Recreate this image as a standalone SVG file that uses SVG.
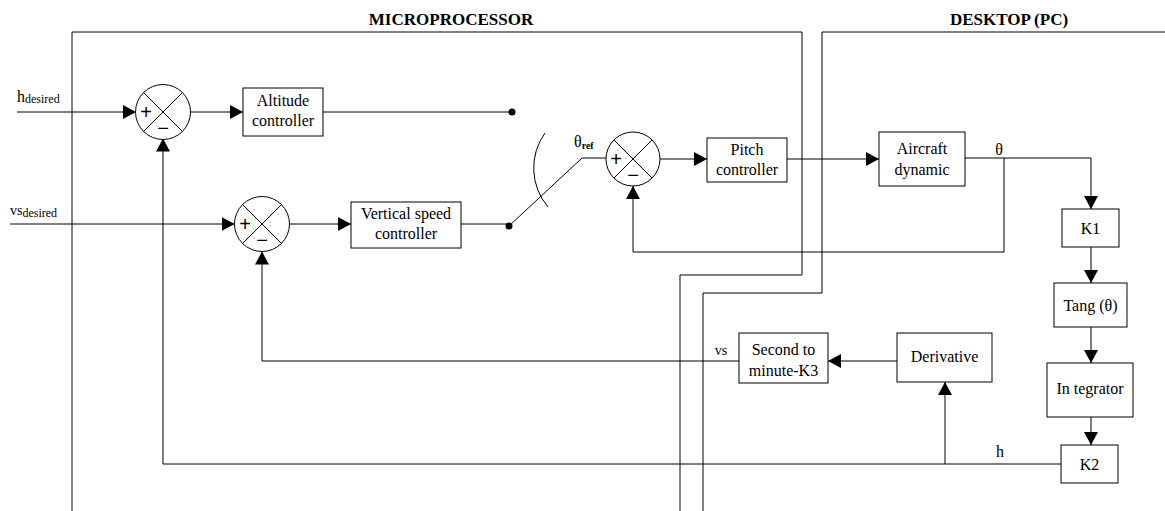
<svg xmlns="http://www.w3.org/2000/svg" width="1165" height="511" viewBox="0 0 1165 511">
<style>
.ln{fill:none;stroke:#000;stroke-width:1}
.bx{fill:#fff;stroke:#000;stroke-width:1}
.sm{fill:#fff;stroke:#000;stroke-width:1}
.t{font-family:"Liberation Serif","Times New Roman",serif;font-size:16px;fill:#000;text-anchor:middle}
.tl{font-family:"Liberation Serif","Times New Roman",serif;font-size:16px;fill:#000}
.ttl{font-family:"Liberation Serif","Times New Roman",serif;font-size:17px;font-weight:bold;fill:#000;text-anchor:middle}
.sub{font-size:12px}
.ps{font-family:"Liberation Sans",Arial,sans-serif;font-size:20px;fill:#000;text-anchor:middle}
</style>
<defs>
<marker id="ah" markerUnits="userSpaceOnUse" markerWidth="14" markerHeight="14" viewBox="0 0 14 14" refX="13" refY="7" orient="auto">
<path d="M0,0 L13,7 L0,14 Z" fill="#000"/>
</marker>
</defs>
<rect width="1165" height="511" fill="#fff"/>

<g id="boundaries">
<path class="ln" d="M72,511 V32 H802 V275 H680 V511"/>
<path class="ln" d="M1165,32 H822 V293 H703 V511"/>
<text class="ttl" x="451" y="25">MICROPROCESSOR</text>
<text class="ttl" x="1009" y="25">DESKTOP (PC)</text>
</g>

<g id="connectors">
<path class="ln" d="M17,112 H136" marker-end="url(#ah)"/>
<path class="ln" d="M190,112 H243" marker-end="url(#ah)"/>
<path class="ln" d="M323,112 H512"/>
<path class="ln" d="M10,224 H234.5" marker-end="url(#ah)"/>
<path class="ln" d="M289.5,224 H351" marker-end="url(#ah)"/>
<path class="ln" d="M461,224 H509"/>
<path class="ln" d="M509,226 L582,158 H606"/>
<path class="ln" d="M545,133 A60,60 0 0,0 548,207"/>
<path class="ln" d="M660,159 H707" marker-end="url(#ah)"/>
<path class="ln" d="M787,159 H879" marker-end="url(#ah)"/>
<path class="ln" d="M965,158 H1091 V209" marker-end="url(#ah)"/>
<path class="ln" d="M1004,158 V252 H633 V186" marker-end="url(#ah)"/>
<path class="ln" d="M1091,247 V283" marker-end="url(#ah)"/>
<path class="ln" d="M1091,327 V363" marker-end="url(#ah)"/>
<path class="ln" d="M1091,417 V445" marker-end="url(#ah)"/>
<path class="ln" d="M1061,464 H163 V138.5" marker-end="url(#ah)"/>
<path class="ln" d="M945,464 V382" marker-end="url(#ah)"/>
<path class="ln" d="M897,361 H828" marker-end="url(#ah)"/>
<path class="ln" d="M739,361 H262 V251.5" marker-end="url(#ah)"/>
<circle cx="512" cy="112" r="3.5" fill="#000"/>
<circle cx="509" cy="226" r="3.5" fill="#000"/>
</g>

<g id="labels">
<text class="tl" x="17" y="102">h<tspan class="sub" dy="1">desired</tspan></text>
<text class="tl" x="10" y="215" style="font-size:14px">vs<tspan class="sub" dy="2">desired</tspan></text>
<text class="tl" x="574" y="147">θ<tspan style="font-size:10px;font-weight:bold" dy="2">ref</tspan></text>
<text class="t" x="999" y="155">θ</text>
<text class="t" x="721" y="355" style="font-size:14px">vs</text>
<text class="t" x="1000" y="457">h</text>
</g>

<g id="sum1">
<circle class="sm" cx="163" cy="112" r="27.5"/>
<path class="ln" d="M143.5,92.5 L182.5,131.5 M182.5,92.5 L143.5,131.5"/>
<text class="ps" x="146" y="119">+</text>
<text class="ps" x="163" y="135">−</text>
</g>
<g id="sum2">
<circle class="sm" cx="262" cy="224" r="27.5"/>
<path class="ln" d="M242.5,204.5 L281.5,243.5 M281.5,204.5 L242.5,243.5"/>
<text class="ps" x="245" y="231">+</text>
<text class="ps" x="262" y="247">−</text>
</g>
<g id="sum3">
<circle class="sm" cx="633" cy="159" r="27"/>
<path class="ln" d="M614,140 L652,178 M652,140 L614,178"/>
<text class="ps" x="616" y="166">+</text>
<text class="ps" x="633" y="182">−</text>
</g>

<g id="altitude">
<rect class="bx" x="243" y="88" width="80" height="48"/>
<text class="t" x="283" y="106">Altitude</text>
<text class="t" x="283" y="126">controller</text>
</g>
<g id="vspeed">
<rect class="bx" x="351" y="202" width="110" height="46"/>
<text class="t" x="406" y="219">Vertical speed</text>
<text class="t" x="406" y="239">controller</text>
</g>
<g id="pitch">
<rect class="bx" x="707" y="138" width="80" height="44"/>
<text class="t" x="747" y="155">Pitch</text>
<text class="t" x="747" y="175">controller</text>
</g>
<g id="aircraft">
<rect class="bx" x="879" y="132" width="86" height="54"/>
<text class="t" x="922" y="154">Aircraft</text>
<text class="t" x="922" y="175">dynamic</text>
</g>
<g id="k1">
<rect class="bx" x="1062" y="209" width="57" height="38"/>
<text class="t" x="1090.5" y="234">K1</text>
</g>
<g id="tang">
<rect class="bx" x="1054" y="283" width="73" height="44"/>
<text class="t" x="1090.5" y="311">Tang (θ)</text>
</g>
<g id="integrator">
<rect class="bx" x="1047" y="363" width="86" height="54"/>
<text class="t" x="1090" y="394">In tegrator</text>
</g>
<g id="k2">
<rect class="bx" x="1061" y="445" width="57" height="38"/>
<text class="t" x="1089.5" y="470">K2</text>
</g>
<g id="second">
<rect class="bx" x="739" y="333" width="89" height="50"/>
<text class="t" x="783.5" y="355">Second to</text>
<text class="t" x="783.5" y="376">minute-K3</text>
</g>
<g id="derivative">
<rect class="bx" x="897" y="333" width="95" height="49"/>
<text class="t" x="944.5" y="362">Derivative</text>
</g>
</svg>
